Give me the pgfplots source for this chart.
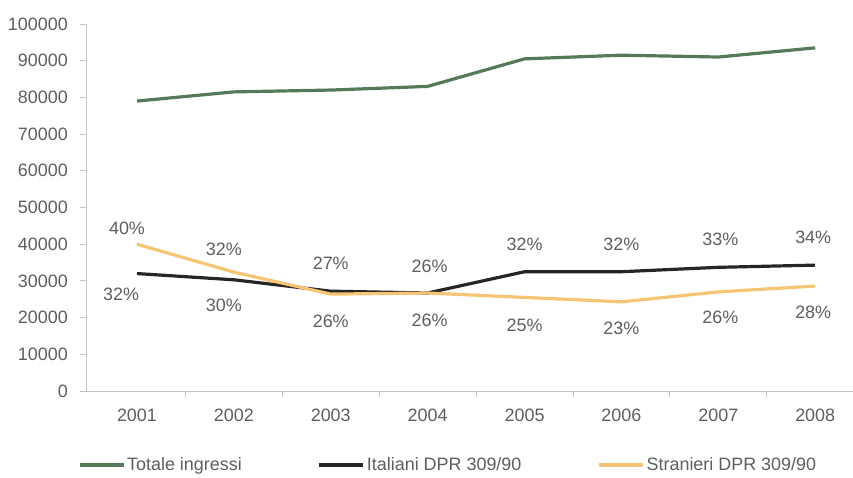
\documentclass[border=0pt]{standalone}
\usepackage{pgfplots}
\pgfplotsset{compat=1.18}
\usepackage{fontspec}
\setmainfont{Liberation Sans}

\definecolor{totale}{HTML}{557A5A}
\definecolor{italiani}{HTML}{262626}
\definecolor{stranieri}{HTML}{F6C475}
\definecolor{txt}{HTML}{5E5E5E}
\definecolor{axisgray}{HTML}{C4C4C4}

% x, value, label, vertical and horizontal offset of the label
\pgfplotstableread{
x y lab off dx
0 79000 0 0 0
1 81500 0 0 0
2 82000 0 0 0
3 83000 0 0 0
4 90500 0 0 0
5 91500 0 0 0
6 91000 0 0 0
7 93500 0 0 0
}\totale
\pgfplotstableread{
x y lab off dx
0 32000 32 -21 -16
1 30300 30 -26 -10
2 27200 27 28 0
3 26700 26 27 2
4 32500 32 27 0
5 32500 32 28 0
6 33700 33 28 2
7 34300 34 28 -2
}\italiani
\pgfplotstableread{
x y lab off dx
0 40000 40 16 -10
1 32400 32 23 -10
2 26400 26 -27 0
3 26700 26 -27 2
4 25500 25 -28 0
5 24300 23 -27 0
6 27000 26 -26 2
7 28600 28 -26 -2
}\stranieri

\pgfplotsset{
  pctlabels/.style={
    point meta=explicit symbolic,
    nodes near coords={\pgfplotspointmeta\%},
    every node near coord/.append style={font=\fontsize{18}{21}\selectfont,
        text=txt, anchor=center, yshift=\off, xshift=\dx},
    visualization depends on={\thisrow{off}\as\off},
    visualization depends on={\thisrow{dx}\as\dx},
  },
}

\begin{document}
\fontsize{18}{21}\selectfont
\begin{tikzpicture}
\useasboundingbox (-86bp,-87bp) rectangle (767bp,391bp);
\begin{axis}[
    at={(0bp,0bp)}, anchor=south west,
    scale only axis,
    width=767bp, height=367bp,
    xmin=-0.526, xmax=7.39,
    ymin=0, ymax=100000,
    axis lines*=left,
    axis line style={draw=axisgray, line width=0.8bp},
    ytick={0,10000,20000,30000,40000,50000,60000,70000,80000,90000,100000},
    yticklabels={0,10000,20000,30000,40000,50000,60000,70000,80000,90000,100000},
    scaled y ticks=false,
    xtick={0,...,7},
    xticklabels={2001,2002,2003,2004,2005,2006,2007,2008},
    tick align=outside,
    major tick length=6bp,
    ytick style={draw=axisgray, line width=0.8bp},
    xtick style={draw=none},
    extra x ticks={0.5,1.5,2.5,3.5,4.5,5.5,6.5},
    extra x tick labels={{},{},{},{},{},{},{}},
    extra x tick style={xtick style={draw=axisgray, line width=0.8bp}},
    tick label style={font=\fontsize{18}{21}\selectfont, text=txt},
    yticklabel style={xshift=-6bp},
    xticklabel style={yshift=-6bp},
    legend columns=3,
    legend style={draw=none, fill=none, at={(0.472,-0.2016)}, anchor=center,
        font=\fontsize{18}{21}\selectfont, text=txt,
        /tikz/every even column/.append style={column sep=74bp}},
    legend image code/.code={\draw[#1] (0bp,0bp) -- (44bp,0bp);},
    every axis plot/.append style={line width=3.2bp, mark=none},
]
\addplot[totale] table[x=x, y=y] {\totale};
\addlegendentry{Totale ingressi}
\addplot[italiani, pctlabels] table[x=x, y=y, meta=lab] {\italiani};
\addlegendentry{Italiani DPR 309/90}
\addplot[stranieri, pctlabels] table[x=x, y=y, meta=lab] {\stranieri};
\addlegendentry{Stranieri DPR 309/90}
\end{axis}
\end{tikzpicture}
\end{document}
